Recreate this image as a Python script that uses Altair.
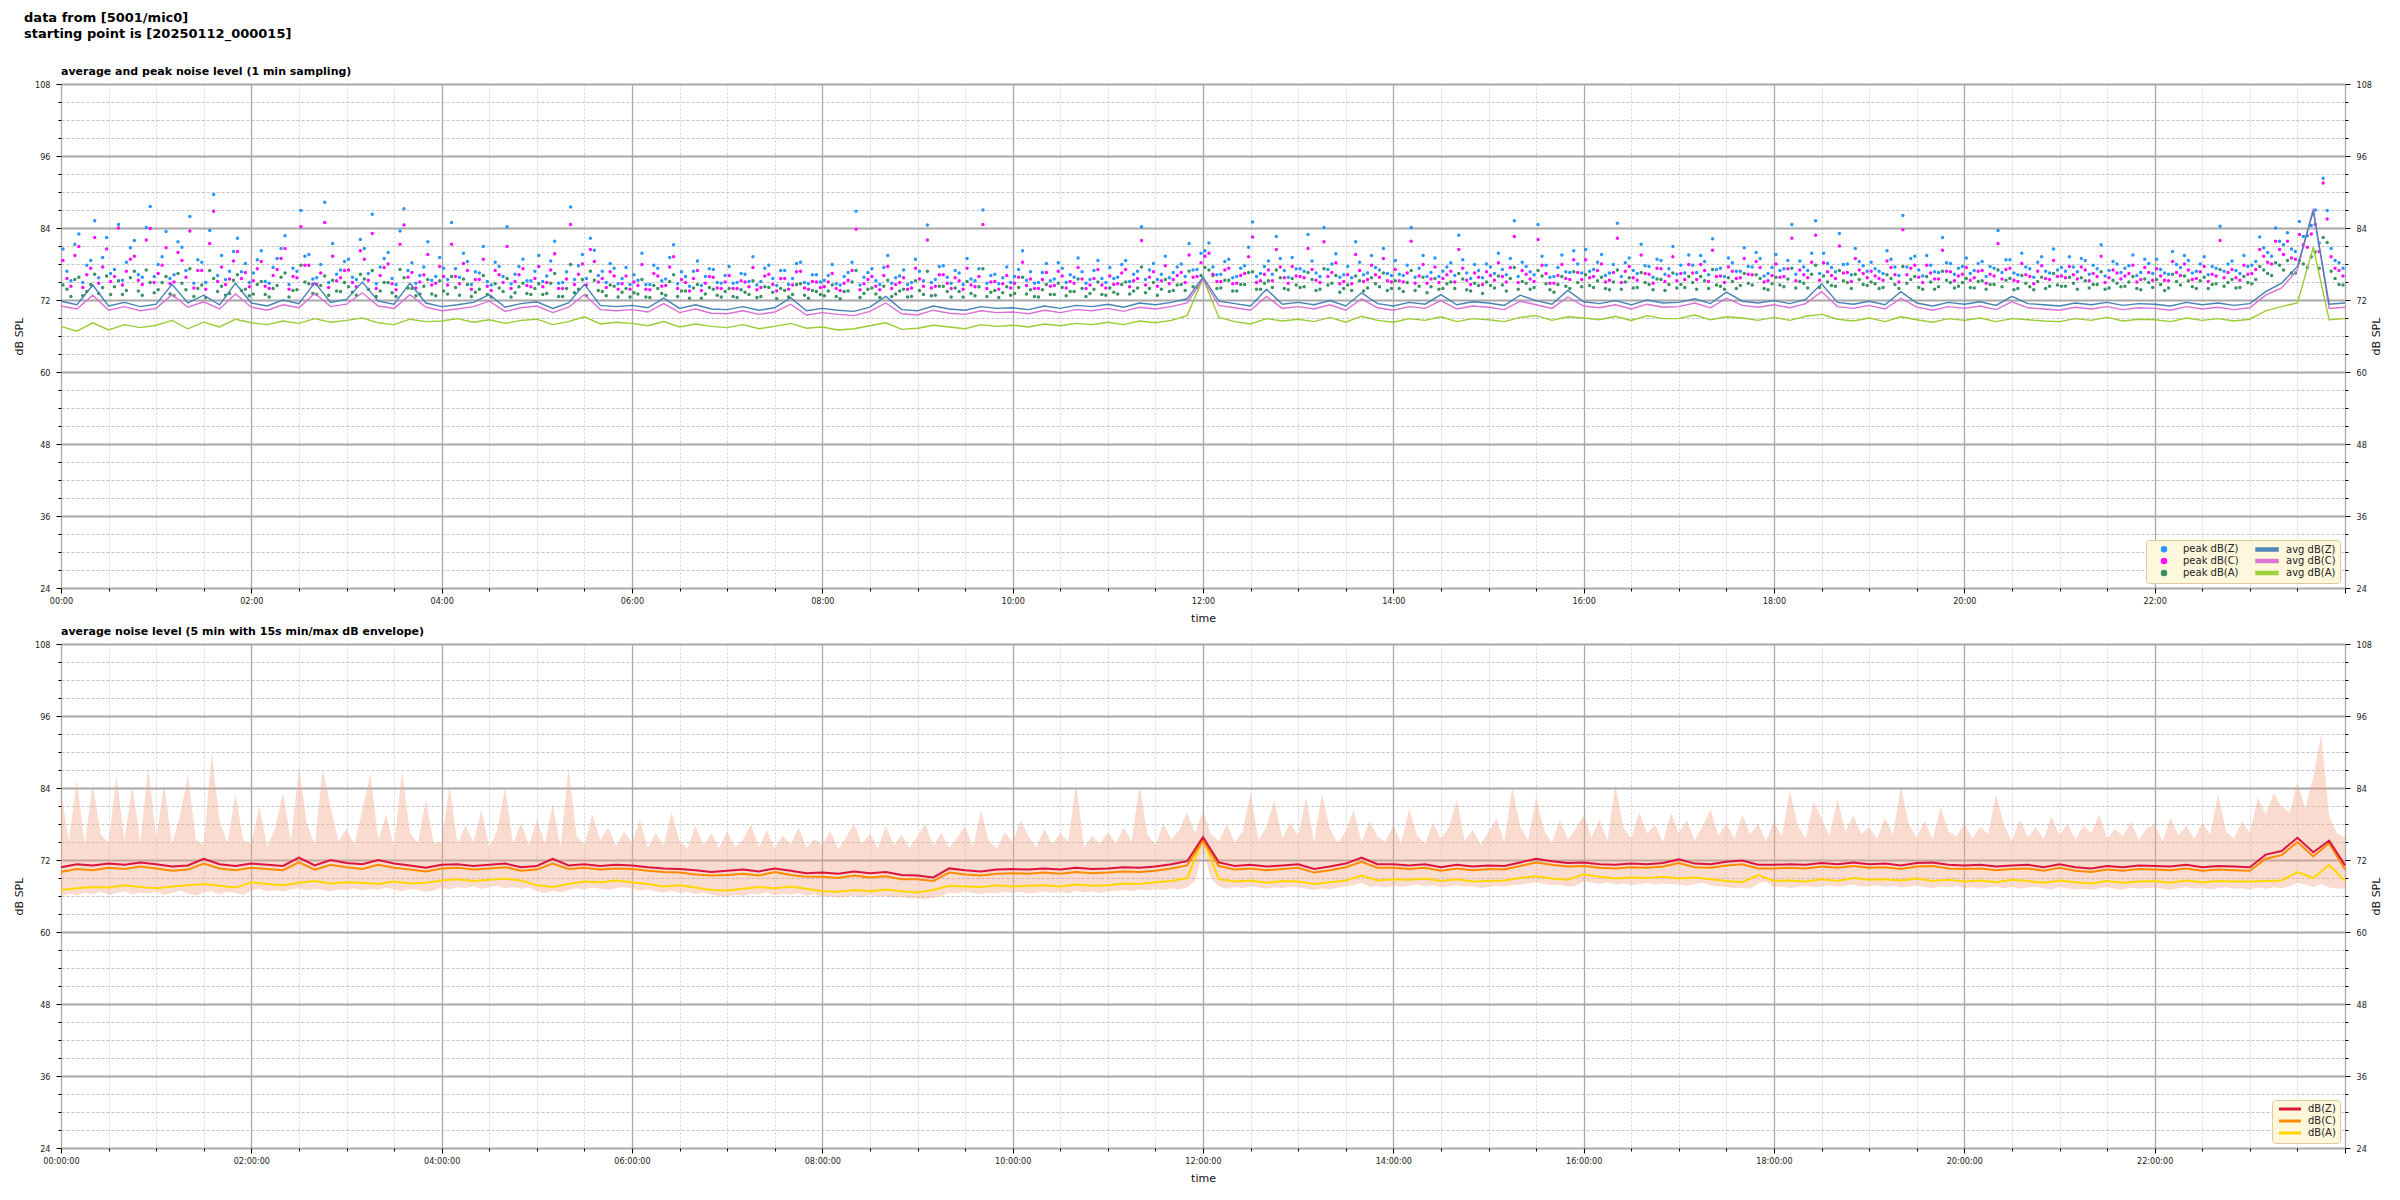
import altair as alt
import pandas as pd

# ---------------- data (hour blocks) ----------------
# top panel: 1-min averages shown at 10-min steps (6 values / hour) + value at 24:00
AVG_Z_H = [
    [71.8, 71.2, 74.5, 71.0, 71.6, 70.9], [71.3, 74.6, 71.5, 72.8, 71.2, 74.8],
    [71.5, 71.0, 72.0, 71.4, 74.9, 71.6], [72.1, 75.0, 71.8, 71.3, 74.8, 71.5],
    [70.9, 71.2, 71.6, 72.9, 70.8, 71.4], [71.7, 70.6, 71.5, 74.6, 71.1, 70.9],
    [71.1, 70.7, 72.3, 70.6, 71.2, 70.5], [70.4, 70.9, 70.3, 70.7, 72.4, 70.2],
    [70.6, 70.3, 70.1, 70.8, 72.6, 70.4], [70.2, 71.0, 70.5, 70.3, 70.9, 70.6],
    [70.7, 70.4, 71.0, 70.6, 71.1, 70.9], [71.3, 70.8, 71.5, 71.2, 71.6, 72.2],
    [75.8, 71.8, 71.4, 71.0, 73.8, 71.3], [71.6, 71.2, 71.9, 71.0, 73.2, 71.4],
    [71.0, 71.6, 71.3, 72.9, 71.2, 71.7], [71.5, 71.1, 72.8, 71.9, 71.3, 73.6],
    [71.7, 71.4, 71.9, 71.2, 72.0, 71.5], [71.6, 72.2, 71.4, 73.3, 71.8, 71.5],
    [71.9, 71.4, 72.1, 74.7, 71.6, 71.3], [71.8, 71.2, 73.4, 71.5, 71.0, 71.6],
    [71.3, 71.7, 71.1, 72.6, 71.4, 71.2], [71.0, 71.5, 71.2, 71.6, 71.1, 71.4],
    [71.3, 71.0, 71.6, 71.2, 71.5, 71.1], [71.4, 73.4, 74.8, 77.6, 86.8, 71.3],
]
AVG_Z_END = 71.5
AVG_C_H = [
    [71.0, 70.5, 72.8, 70.3, 70.9, 70.2], [70.6, 72.9, 70.8, 71.7, 70.5, 73.0],
    [70.8, 70.3, 71.2, 70.7, 73.1, 70.9], [71.3, 73.2, 71.0, 70.6, 72.9, 70.8],
    [70.2, 70.5, 70.9, 71.8, 70.1, 70.7], [71.0, 69.9, 70.8, 72.9, 70.4, 70.2],
    [70.4, 70.0, 71.4, 69.9, 70.5, 69.8], [69.7, 70.2, 69.6, 70.0, 71.3, 69.5],
    [69.9, 69.6, 69.4, 70.1, 71.5, 69.7], [69.5, 70.3, 69.8, 69.6, 70.2, 69.9],
    [70.0, 69.7, 70.3, 69.9, 70.4, 70.2], [70.6, 70.1, 70.8, 70.5, 70.9, 71.5],
    [75.5, 71.1, 70.7, 70.3, 72.6, 70.6], [70.9, 70.5, 71.2, 70.3, 72.2, 70.7],
    [70.3, 70.9, 70.6, 71.9, 70.5, 71.0], [70.8, 70.4, 71.8, 71.2, 70.6, 72.5],
    [71.0, 70.7, 71.2, 70.5, 71.3, 70.8], [70.9, 71.5, 70.7, 72.3, 71.1, 70.8],
    [71.2, 70.7, 71.4, 73.4, 70.9, 70.6], [71.1, 70.5, 72.3, 70.8, 70.3, 70.9],
    [70.6, 71.0, 70.4, 71.7, 70.7, 70.5], [70.3, 70.8, 70.5, 70.9, 70.4, 70.7],
    [70.6, 70.3, 70.9, 70.5, 70.8, 70.4], [70.7, 72.8, 74.0, 77.0, 87.2, 70.6],
]
AVG_C_END = 70.8
AVG_A_H = [
    [67.6, 66.8, 68.2, 67.0, 67.9, 67.4], [67.8, 68.6, 67.2, 68.3, 67.5, 68.8],
    [68.2, 67.9, 68.5, 68.1, 68.9, 68.3], [68.6, 69.0, 68.2, 67.9, 68.8, 68.4],
    [68.5, 68.9, 68.3, 68.7, 68.1, 68.6], [68.8, 67.9, 68.4, 69.2, 68.0, 68.3],
    [68.1, 67.7, 68.4, 67.5, 68.0, 67.6], [67.4, 67.9, 67.2, 67.6, 68.1, 67.3],
    [67.5, 67.0, 67.2, 67.7, 68.2, 67.1], [67.3, 67.8, 67.5, 67.2, 67.9, 67.6],
    [67.8, 67.5, 68.0, 67.7, 68.1, 67.9], [68.3, 67.9, 68.5, 68.2, 68.6, 69.4],
    [75.6, 69.1, 68.4, 68.0, 68.9, 68.5], [68.8, 68.4, 69.1, 68.3, 69.3, 68.6],
    [68.3, 68.9, 68.6, 69.2, 68.4, 68.9], [68.7, 68.4, 69.1, 69.4, 68.6, 69.2],
    [69.0, 68.7, 69.3, 68.6, 69.4, 68.9], [68.9, 69.5, 68.7, 69.2, 69.0, 68.6],
    [69.1, 68.6, 69.3, 69.6, 68.8, 68.5], [69.0, 68.4, 69.2, 68.7, 68.3, 68.9],
    [68.6, 69.0, 68.4, 68.9, 68.7, 68.5], [68.4, 68.9, 68.6, 69.1, 68.5, 68.8],
    [68.7, 68.4, 69.0, 68.6, 68.9, 68.5], [68.8, 70.2, 70.9, 71.5, 80.8, 68.7],
]
AVG_A_END = 68.9

# top panel: peak values, two every 5 min (sets A and B, 12 values / hour each)
PEAK_Z_H = [
    [80.5, 75.2, 83.0, 77.8, 85.2, 79.1, 76.4, 84.6, 78.3, 81.9, 75.8, 87.6],
    [77.9, 83.4, 76.2, 80.8, 85.9, 78.7, 74.9, 89.6, 79.4, 76.8, 82.3, 78.1],
    [76.5, 80.2, 74.8, 78.9, 82.7, 77.3, 86.9, 79.6, 75.7, 88.3, 81.4, 77.0],
    [78.8, 75.4, 80.6, 86.3, 77.5, 79.9, 74.6, 87.2, 78.2, 76.1, 81.7, 75.9],
    [77.3, 84.9, 75.8, 78.4, 76.7, 80.9, 74.5, 77.6, 84.2, 76.3, 78.8, 75.2],
    [79.4, 76.0, 81.8, 74.9, 87.5, 77.7, 75.6, 80.3, 76.8, 78.1, 74.7, 77.4],
    [76.2, 79.8, 74.6, 77.3, 75.5, 81.2, 76.7, 74.3, 78.5, 75.9, 77.1, 74.8],
    [77.6, 74.9, 76.3, 79.2, 75.1, 77.8, 74.4, 76.9, 75.6, 78.3, 74.7, 76.2],
    [75.3, 77.9, 74.5, 76.6, 86.8, 75.8, 77.2, 74.6, 79.4, 75.7, 77.0, 74.9],
    [76.8, 84.5, 75.4, 77.7, 74.8, 76.5, 78.9, 75.2, 87.0, 76.1, 74.7, 77.5],
    [75.9, 80.2, 76.7, 74.9, 78.1, 75.5, 77.3, 76.2, 79.0, 74.8, 76.9, 75.6],
    [77.4, 75.8, 78.6, 76.3, 84.2, 77.0, 75.4, 79.3, 76.6, 78.0, 81.4, 77.1],
    [80.2, 77.5, 76.3, 78.8, 75.9, 77.7, 85.0, 76.4, 78.5, 82.6, 76.9, 79.1],
    [77.2, 82.9, 76.5, 84.1, 78.0, 75.8, 77.6, 81.7, 76.2, 79.4, 77.0, 76.4],
    [78.6, 76.1, 84.1, 77.3, 75.9, 79.0, 76.8, 78.2, 82.8, 76.5, 77.9, 75.7],
    [77.5, 79.8, 76.2, 85.2, 78.3, 76.7, 84.6, 77.8, 75.9, 79.5, 76.6, 78.0],
    [80.4, 77.1, 79.6, 76.5, 84.8, 78.2, 76.9, 81.3, 77.6, 78.8, 76.3, 80.9],
    [77.8, 79.5, 76.6, 78.4, 82.2, 77.3, 79.0, 76.8, 80.7, 77.5, 78.9, 76.4],
    [79.6, 77.2, 84.6, 78.5, 76.9, 85.2, 79.8, 77.4, 83.1, 78.0, 80.6, 77.7],
    [78.3, 76.8, 80.2, 77.5, 86.1, 78.9, 77.0, 79.4, 76.7, 82.4, 78.1, 77.3],
    [79.0, 76.9, 78.4, 77.6, 83.6, 78.7, 76.5, 79.8, 77.2, 78.3, 76.8, 80.5],
    [77.4, 79.2, 76.7, 78.6, 77.8, 81.2, 76.9, 78.0, 77.3, 79.5, 76.6, 78.1],
    [78.8, 76.5, 80.1, 77.4, 78.6, 76.8, 79.2, 77.6, 84.3, 78.0, 76.9, 79.4],
    [77.8, 82.5, 79.9, 84.0, 81.2, 80.5, 85.1, 82.7, 87.0, 92.3, 80.6, 78.2],
]
PEAK_Z_B_H = [
    [76.8, 81.3, 74.9, 78.6, 75.7, 82.4, 77.1, 75.3, 80.7, 76.2, 84.1, 75.9],
    [79.2, 75.6, 81.7, 76.9, 74.8, 78.3, 83.6, 76.1, 75.4, 80.1, 76.7, 74.9],
    [78.7, 75.1, 77.4, 80.6, 74.6, 76.8, 79.3, 75.5, 77.9, 74.9, 76.3, 78.4],
    [75.8, 82.1, 76.4, 74.7, 78.9, 75.6, 83.5, 76.9, 74.8, 77.5, 75.3, 79.1],
    [75.4, 77.2, 79.8, 74.6, 76.5, 75.1, 78.3, 75.9, 74.7, 77.6, 75.2, 76.8],
    [75.1, 78.5, 74.8, 76.7, 75.4, 79.6, 82.3, 76.1, 74.9, 77.3, 75.6, 74.6],
    [75.3, 74.6, 77.8, 75.2, 79.1, 74.7, 75.9, 76.8, 74.4, 77.2, 74.9, 76.1],
    [74.8, 76.4, 75.1, 74.5, 77.3, 75.6, 76.9, 74.6, 78.1, 74.9, 76.2, 75.0],
    [76.1, 74.7, 75.9, 78.3, 74.5, 76.6, 75.2, 77.4, 74.8, 76.0, 74.6, 78.8],
    [75.2, 74.9, 77.6, 75.8, 76.9, 74.6, 75.5, 77.2, 74.8, 76.3, 75.7, 74.9],
    [77.1, 75.3, 74.8, 76.6, 75.2, 78.2, 74.9, 75.8, 76.7, 75.4, 78.6, 74.9],
    [75.6, 77.9, 75.1, 76.8, 75.4, 78.1, 76.3, 75.7, 77.5, 75.9, 77.0, 79.8],
    [81.5, 76.2, 78.4, 75.7, 77.3, 80.8, 75.9, 77.6, 76.3, 78.9, 75.8, 77.2],
    [76.8, 78.5, 75.9, 77.1, 79.7, 76.2, 75.7, 78.3, 76.5, 77.4, 80.6, 76.1],
    [76.3, 77.8, 75.8, 79.4, 76.6, 75.9, 77.5, 76.1, 78.7, 75.6, 76.9, 78.0],
    [76.4, 77.1, 78.9, 75.9, 77.6, 76.2, 79.3, 75.8, 77.4, 76.7, 80.2, 76.5],
    [76.8, 78.3, 76.1, 77.9, 75.9, 79.0, 76.4, 77.7, 75.8, 78.6, 77.2, 76.3],
    [76.5, 77.8, 79.4, 76.2, 77.1, 75.9, 78.2, 76.8, 77.6, 79.9, 76.0, 77.4],
    [76.9, 78.6, 76.3, 77.5, 79.8, 76.4, 78.1, 76.7, 77.9, 76.2, 78.4, 76.8],
    [77.2, 76.4, 78.8, 76.1, 77.5, 79.3, 76.0, 77.8, 76.6, 78.2, 76.3, 77.6],
    [76.4, 78.1, 75.9, 77.3, 76.6, 78.7, 76.2, 77.5, 75.8, 79.2, 76.5, 77.0],
    [76.8, 77.5, 78.9, 76.3, 77.2, 76.0, 78.4, 76.6, 77.7, 76.1, 78.8, 76.4],
    [77.1, 76.3, 77.9, 79.4, 76.5, 78.0, 76.2, 77.3, 76.8, 78.5, 76.4, 77.6],
    [78.4, 80.7, 79.3, 81.8, 83.2, 80.1, 82.6, 84.4, 81.5, 86.9, 78.6, 77.3],
]
PEAK_C_H = [
    [78.6, 74.3, 80.9, 76.2, 82.4, 77.5, 75.1, 84.0, 76.8, 79.3, 74.6, 83.9],
    [76.4, 80.7, 75.0, 78.6, 83.5, 76.9, 73.8, 86.8, 77.5, 75.5, 80.1, 76.6],
    [75.2, 78.4, 73.9, 77.1, 80.6, 75.9, 84.2, 77.8, 74.6, 84.9, 79.3, 75.7],
    [77.0, 74.2, 78.8, 83.1, 76.1, 78.0, 73.7, 84.5, 76.6, 75.0, 79.6, 74.8],
    [75.9, 81.3, 74.7, 76.9, 75.4, 78.8, 73.6, 76.2, 80.9, 75.1, 77.2, 74.2],
    [77.6, 74.9, 79.7, 73.9, 84.6, 76.3, 74.5, 78.4, 75.6, 76.7, 73.8, 76.0],
    [75.0, 77.9, 73.7, 76.0, 74.4, 79.2, 75.4, 73.5, 76.9, 74.8, 75.8, 73.9],
    [76.1, 73.9, 75.0, 77.4, 74.1, 76.3, 73.5, 75.6, 74.5, 76.8, 73.8, 75.0],
    [74.2, 76.4, 73.6, 75.3, 83.8, 74.7, 75.9, 73.7, 77.6, 74.6, 75.7, 74.0],
    [75.5, 82.0, 74.3, 76.2, 73.9, 75.2, 77.3, 74.2, 84.6, 75.0, 73.8, 76.1],
    [74.8, 78.3, 75.5, 73.9, 76.6, 74.4, 76.0, 75.1, 77.4, 73.9, 75.6, 74.5],
    [76.0, 74.7, 77.1, 75.2, 81.9, 75.8, 74.3, 77.7, 75.4, 76.6, 79.5, 75.9],
    [79.3, 76.3, 75.1, 77.3, 74.8, 76.4, 82.5, 75.2, 77.0, 80.4, 75.7, 77.6],
    [75.9, 80.6, 75.3, 81.7, 76.6, 74.7, 76.2, 79.6, 75.1, 77.8, 75.8, 75.2],
    [77.1, 75.0, 81.8, 76.0, 74.8, 77.5, 75.6, 76.8, 80.4, 75.3, 76.5, 74.6],
    [76.1, 78.2, 75.0, 82.6, 76.9, 75.5, 82.1, 76.4, 74.8, 77.9, 75.4, 76.6],
    [78.7, 75.9, 78.0, 75.3, 82.3, 76.8, 75.7, 79.5, 76.3, 77.3, 75.1, 79.2],
    [76.4, 77.9, 75.4, 76.9, 80.3, 76.0, 77.5, 75.6, 78.9, 76.2, 77.4, 75.2],
    [78.0, 75.9, 82.3, 77.0, 75.7, 82.8, 78.2, 76.1, 81.0, 76.6, 78.9, 76.4],
    [76.8, 75.6, 78.5, 76.2, 83.7, 77.3, 75.8, 77.8, 75.5, 80.3, 76.7, 76.0],
    [77.4, 75.7, 76.9, 76.3, 81.4, 77.1, 75.3, 78.1, 75.9, 76.8, 75.6, 78.6],
    [76.0, 77.6, 75.5, 77.0, 76.4, 79.3, 75.7, 76.5, 76.0, 77.8, 75.4, 76.6],
    [77.2, 75.3, 78.4, 76.1, 77.0, 75.6, 77.6, 76.3, 81.9, 76.6, 75.7, 77.8],
    [76.4, 80.4, 78.3, 81.8, 79.6, 79.0, 82.9, 80.8, 84.6, 91.5, 79.2, 76.9],
]
PEAK_C_B_H = [
    [75.6, 79.4, 74.1, 77.3, 74.8, 80.5, 75.9, 74.5, 78.8, 75.3, 82.0, 74.9],
    [77.8, 74.7, 79.9, 75.8, 74.0, 76.9, 81.4, 75.1, 74.6, 78.5, 75.6, 74.2],
    [77.2, 74.3, 76.1, 78.9, 73.8, 75.7, 77.8, 74.6, 76.5, 74.1, 75.2, 76.9],
    [74.9, 80.2, 75.3, 73.9, 77.4, 74.7, 81.3, 75.8, 74.0, 76.2, 74.5, 77.6],
    [74.5, 75.9, 78.1, 73.8, 75.4, 74.3, 76.9, 74.9, 73.9, 76.2, 74.4, 75.6],
    [74.2, 77.0, 73.9, 75.5, 74.6, 78.0, 80.4, 75.0, 74.1, 76.0, 74.7, 73.8],
    [74.4, 73.8, 76.4, 74.3, 77.5, 73.9, 74.9, 75.6, 73.6, 75.9, 74.0, 75.0],
    [73.9, 75.2, 74.2, 73.7, 76.0, 74.6, 75.6, 73.8, 76.7, 74.0, 75.1, 74.1],
    [75.0, 73.9, 74.8, 76.9, 73.7, 75.4, 74.3, 76.1, 73.9, 74.9, 73.8, 77.3],
    [74.3, 74.0, 76.2, 74.8, 75.7, 73.8, 74.5, 75.9, 73.9, 75.1, 74.7, 74.0],
    [75.8, 74.4, 73.9, 75.4, 74.3, 76.8, 74.0, 74.8, 75.5, 74.5, 77.1, 74.0],
    [74.6, 76.5, 74.2, 75.6, 74.5, 76.7, 75.2, 74.7, 76.1, 74.9, 75.8, 78.2],
    [79.8, 75.1, 77.0, 74.7, 76.1, 79.2, 74.9, 76.3, 75.2, 77.5, 74.8, 76.0],
    [75.7, 77.1, 74.9, 75.9, 78.2, 75.1, 74.7, 76.9, 75.4, 76.2, 78.9, 75.0],
    [75.2, 76.5, 74.8, 77.9, 75.5, 74.9, 76.2, 75.0, 77.3, 74.6, 75.8, 76.7],
    [75.3, 75.9, 77.4, 74.9, 76.3, 75.1, 77.8, 74.8, 76.1, 75.6, 78.7, 75.4],
    [75.7, 76.9, 75.0, 76.6, 74.9, 77.6, 75.3, 76.4, 74.8, 77.2, 76.0, 75.2],
    [75.4, 76.5, 77.9, 75.1, 75.9, 74.9, 76.8, 75.7, 76.3, 78.4, 75.0, 76.1],
    [75.8, 77.2, 75.2, 76.2, 78.3, 75.3, 76.7, 75.6, 76.5, 75.1, 77.0, 75.7],
    [76.0, 75.3, 77.4, 75.0, 76.2, 77.8, 74.9, 76.5, 75.5, 76.8, 75.2, 76.3],
    [75.3, 76.8, 74.8, 76.0, 75.5, 77.3, 75.1, 76.2, 74.7, 77.7, 75.4, 75.9],
    [75.7, 76.2, 77.5, 75.2, 75.9, 74.9, 77.0, 75.5, 76.4, 75.0, 77.4, 75.3],
    [76.0, 75.2, 76.6, 78.0, 75.4, 76.7, 75.1, 76.0, 75.7, 77.1, 75.3, 76.3],
    [77.1, 79.3, 78.0, 80.4, 81.8, 78.8, 81.2, 83.0, 80.1, 85.5, 77.3, 76.0],
]
PEAK_A_H = [
    [74.5, 72.6, 75.8, 73.4, 76.3, 74.1, 72.9, 75.2, 73.6, 76.8, 72.8, 74.9],
    [73.7, 75.9, 72.7, 74.8, 77.2, 73.9, 72.4, 75.6, 74.3, 73.1, 76.2, 73.8],
    [73.0, 75.1, 72.5, 74.4, 76.5, 73.6, 77.8, 74.7, 72.9, 76.0, 75.3, 73.4],
    [74.2, 72.8, 75.5, 76.9, 73.5, 74.9, 72.6, 75.7, 73.9, 73.0, 75.4, 72.7],
    [73.5, 75.9, 72.8, 74.6, 73.3, 76.1, 72.5, 74.0, 75.6, 73.2, 74.8, 72.9],
    [74.7, 73.1, 76.4, 72.6, 77.9, 73.8, 72.7, 75.3, 73.4, 74.5, 72.5, 73.9],
    [73.2, 75.4, 72.4, 73.9, 72.8, 76.2, 73.5, 72.3, 74.6, 73.0, 73.8, 72.5],
    [73.9, 72.4, 73.3, 75.2, 72.6, 74.1, 72.2, 73.6, 72.9, 74.7, 72.3, 73.4],
    [72.7, 74.5, 72.2, 73.5, 76.9, 73.1, 74.0, 72.4, 75.3, 73.0, 73.8, 72.6],
    [73.6, 76.8, 72.8, 74.3, 72.5, 73.4, 75.1, 72.7, 77.2, 73.3, 72.4, 74.2],
    [73.1, 75.8, 73.7, 72.5, 74.6, 72.9, 74.1, 73.4, 75.5, 72.6, 73.8, 72.9],
    [74.0, 73.0, 75.0, 73.5, 77.5, 73.9, 72.8, 75.4, 73.6, 74.6, 76.8, 74.1],
    [77.4, 76.1, 74.0, 75.3, 73.5, 74.6, 76.7, 73.8, 75.2, 77.0, 73.9, 75.6],
    [74.1, 76.6, 73.6, 77.2, 74.8, 73.3, 74.5, 76.0, 73.5, 75.7, 74.2, 73.6],
    [75.2, 73.4, 76.9, 74.3, 73.2, 75.6, 73.9, 75.0, 76.4, 73.7, 74.8, 73.1],
    [74.4, 76.0, 73.5, 77.4, 75.1, 73.8, 76.9, 74.7, 73.3, 75.9, 73.9, 74.9],
    [76.2, 74.1, 75.8, 73.7, 77.0, 75.0, 74.0, 76.6, 74.6, 75.5, 73.6, 76.5],
    [74.6, 75.9, 73.8, 75.2, 77.1, 74.3, 75.7, 73.9, 76.4, 74.5, 75.6, 73.7],
    [75.8, 74.2, 77.3, 75.1, 74.0, 77.8, 76.0, 74.4, 76.9, 74.9, 76.3, 74.6],
    [75.0, 73.9, 76.2, 74.6, 77.6, 75.4, 74.1, 75.9, 73.8, 76.8, 74.9, 74.3],
    [75.6, 74.0, 75.2, 74.6, 77.0, 75.3, 73.7, 76.1, 74.2, 75.1, 73.9, 76.4],
    [74.3, 75.8, 73.8, 75.2, 74.6, 76.7, 74.0, 74.8, 74.3, 75.9, 73.7, 74.9],
    [75.4, 73.6, 76.3, 74.5, 75.2, 73.9, 75.8, 74.6, 77.1, 74.9, 74.0, 75.9],
    [74.7, 77.6, 76.4, 78.2, 77.0, 76.5, 78.6, 77.4, 80.0, 82.4, 76.8, 74.6],
]
PEAK_A_B_H = [
    [73.8, 75.4, 72.7, 74.6, 73.1, 76.0, 74.2, 72.9, 75.7, 73.5, 77.0, 73.2],
    [74.9, 73.0, 76.4, 73.7, 72.6, 74.5, 76.9, 73.4, 72.8, 75.3, 73.6, 72.7],
    [74.6, 72.9, 73.9, 75.8, 72.5, 73.7, 75.0, 73.1, 74.4, 72.8, 73.5, 74.9],
    [73.3, 76.3, 73.8, 72.6, 74.9, 73.2, 77.1, 74.0, 72.7, 74.3, 73.0, 75.2],
    [73.0, 74.1, 75.5, 72.6, 73.8, 72.9, 74.7, 73.4, 72.5, 74.2, 73.1, 73.9],
    [72.9, 74.8, 72.6, 73.9, 73.2, 75.4, 76.8, 73.6, 72.7, 74.3, 73.3, 72.5],
    [73.0, 72.5, 74.4, 73.1, 75.1, 72.6, 73.5, 74.0, 72.3, 74.1, 72.8, 73.4],
    [72.6, 73.7, 72.9, 72.4, 74.2, 73.3, 73.9, 72.5, 74.6, 72.8, 73.6, 72.9],
    [73.5, 72.6, 73.4, 75.0, 72.4, 73.8, 73.0, 74.3, 72.6, 73.5, 72.5, 75.2],
    [72.9, 72.7, 74.3, 73.4, 74.0, 72.5, 73.1, 74.2, 72.6, 73.6, 73.2, 72.8],
    [74.1, 73.0, 72.6, 73.7, 72.9, 74.8, 72.7, 73.4, 73.9, 73.1, 75.0, 72.8],
    [73.3, 74.6, 73.0, 74.0, 73.2, 74.9, 73.8, 73.4, 74.5, 73.6, 74.2, 76.1],
    [77.0, 73.9, 75.3, 73.5, 74.6, 76.6, 73.8, 74.8, 74.1, 75.7, 73.7, 74.5],
    [74.2, 75.4, 73.8, 74.5, 76.1, 73.9, 73.6, 75.2, 74.0, 74.7, 76.5, 73.9],
    [73.9, 74.9, 73.6, 75.8, 74.2, 73.8, 74.7, 73.9, 75.5, 73.5, 74.4, 75.0],
    [74.0, 74.5, 75.6, 73.8, 74.8, 74.1, 76.0, 73.7, 74.6, 74.3, 76.7, 74.2],
    [74.4, 75.2, 73.9, 75.0, 73.8, 75.7, 74.1, 74.9, 73.7, 75.4, 74.6, 74.0],
    [74.1, 74.9, 75.9, 73.9, 74.5, 73.8, 75.1, 74.4, 74.8, 76.2, 73.9, 74.7],
    [74.5, 75.5, 74.0, 74.8, 76.3, 74.1, 75.0, 74.3, 75.2, 73.9, 75.4, 74.4],
    [74.7, 74.1, 75.6, 73.9, 74.8, 75.9, 73.8, 75.0, 74.2, 75.3, 74.0, 74.9],
    [74.1, 75.1, 73.8, 74.6, 74.2, 75.6, 73.9, 74.8, 73.7, 75.8, 74.3, 74.5],
    [74.3, 74.8, 75.7, 74.0, 74.6, 73.8, 75.3, 74.2, 75.0, 73.9, 75.5, 74.1],
    [74.6, 74.0, 75.1, 76.0, 74.2, 75.2, 73.9, 74.7, 74.3, 75.4, 74.1, 74.9],
    [75.4, 77.0, 76.1, 77.8, 78.6, 76.5, 78.0, 79.2, 77.3, 81.6, 75.6, 74.5],
]

# bottom panel: 5-min averages shown at 10-min steps + value at 24:00
DB_Z_H = [
    [70.8, 71.3, 71.1, 71.4, 71.2, 71.6], [71.3, 70.9, 71.1, 72.2, 71.3, 71.0],
    [71.4, 71.2, 71.0, 72.4, 71.1, 72.0], [71.5, 71.3, 72.0, 71.4, 71.1, 70.7],
    [71.2, 71.3, 71.0, 71.2, 71.4, 70.8], [71.0, 72.2, 71.1, 71.3, 71.0, 71.2],
    [71.1, 70.8, 70.6, 70.5, 70.3, 70.0], [70.2, 70.4, 70.1, 70.6, 70.2, 69.8],
    [69.9, 69.7, 70.1, 69.8, 70.0, 69.5], [69.4, 69.1, 70.6, 70.3, 70.1, 70.4],
    [70.5, 70.4, 70.6, 70.4, 70.7, 70.5], [70.6, 70.8, 70.7, 70.9, 71.3, 71.8],
    [75.8, 71.6, 71.0, 71.2, 70.9, 71.1], [71.3, 70.5, 70.9, 71.4, 72.4, 71.3],
    [71.3, 71.1, 71.3, 70.8, 71.2, 70.9], [71.1, 71.0, 71.6, 72.2, 71.8, 71.5],
    [71.6, 71.3, 71.2, 71.4, 71.3, 71.5], [72.1, 71.4, 71.3, 71.7, 71.9, 71.2],
    [71.2, 71.3, 71.2, 71.5, 71.3, 71.6], [71.3, 71.4, 71.1, 71.5, 71.6, 71.2],
    [71.1, 71.2, 70.9, 71.1, 71.2, 70.8], [71.3, 70.8, 70.6, 71.0, 70.8, 71.1],
    [71.0, 70.9, 71.2, 70.8, 71.0, 70.9], [70.8, 72.9, 73.5, 75.7, 73.3, 75.2],
]
DB_Z_END = 71.1
DB_C_H = [
    [70.0, 70.5, 70.3, 70.7, 70.5, 70.9], [70.6, 70.2, 70.4, 71.4, 70.6, 70.3],
    [70.7, 70.5, 70.3, 71.6, 70.4, 71.2], [70.8, 70.5, 71.2, 70.7, 70.4, 70.1],
    [70.6, 70.7, 70.4, 70.6, 70.8, 70.2], [70.4, 71.4, 70.5, 70.7, 70.4, 70.6],
    [70.5, 70.2, 70.0, 69.9, 69.6, 69.4], [69.5, 69.7, 69.4, 70.0, 69.5, 69.2],
    [69.2, 69.0, 69.4, 69.1, 69.3, 68.8], [68.8, 68.5, 69.9, 69.6, 69.4, 69.7],
    [69.8, 69.7, 69.9, 69.7, 70.0, 69.8], [69.9, 70.1, 70.0, 70.2, 70.6, 71.1],
    [75.3, 71.0, 70.4, 70.6, 70.3, 70.5], [70.7, 69.9, 70.3, 70.8, 71.7, 70.7],
    [70.7, 70.5, 70.7, 70.2, 70.6, 70.3], [70.5, 70.4, 71.0, 71.6, 71.2, 70.9],
    [71.0, 70.7, 70.6, 70.8, 70.7, 70.9], [71.5, 70.8, 70.7, 71.1, 71.3, 70.6],
    [70.6, 70.7, 70.6, 70.9, 70.7, 71.0], [70.7, 70.8, 70.5, 70.9, 71.0, 70.6],
    [70.5, 70.6, 70.3, 70.5, 70.6, 70.2], [70.7, 70.2, 70.0, 70.4, 70.2, 70.5],
    [70.4, 70.3, 70.6, 70.2, 70.4, 70.3], [70.2, 72.2, 72.8, 75.0, 72.6, 74.8],
]
DB_C_END = 70.4
DB_A_H = [
    [67.0, 67.3, 67.5, 67.4, 67.8, 67.5], [67.3, 67.6, 67.8, 68.0, 67.7, 67.4],
    [68.3, 68.0, 67.8, 68.2, 68.5, 68.1], [68.3, 68.2, 68.0, 68.4, 68.1, 68.2],
    [68.6, 68.8, 68.5, 68.7, 68.9, 68.6], [67.8, 67.5, 68.0, 68.4, 68.3, 68.6],
    [68.3, 68.0, 67.6, 67.8, 67.4, 67.0], [66.9, 67.2, 67.5, 67.3, 67.6, 67.2],
    [66.8, 66.7, 67.0, 66.8, 67.1, 66.8], [66.6, 67.0, 67.7, 67.6, 67.5, 67.8],
    [67.6, 67.7, 67.8, 67.6, 67.9, 67.7], [67.8, 68.1, 68.0, 68.3, 68.5, 69.0],
    [75.5, 68.8, 68.4, 68.6, 68.2, 68.5], [68.4, 68.0, 68.3, 68.6, 69.4, 68.6],
    [68.8, 68.7, 68.9, 68.5, 68.8, 68.4], [68.5, 68.6, 69.0, 69.3, 68.9, 68.7],
    [69.6, 69.2, 68.9, 69.1, 69.0, 69.2], [68.9, 69.1, 68.8, 68.5, 68.3, 69.5],
    [68.5, 68.6, 68.4, 68.8, 68.5, 69.0], [68.7, 68.8, 68.6, 68.9, 68.5, 68.7],
    [68.4, 68.6, 68.3, 68.7, 68.5, 68.2], [68.6, 68.3, 68.1, 68.5, 68.2, 68.4],
    [68.5, 68.2, 68.6, 68.3, 68.5, 68.4], [68.4, 68.5, 68.6, 70.0, 69.0, 71.2],
]
DB_A_END = 68.5

# bottom panel: 15 s min / max envelope, one value every 5 min + value at 24:00
ENV_MAX_H = [
    [83.2, 75.1, 85.4, 74.6, 84.8, 76.3, 74.8, 86.0, 75.2, 84.5, 74.9, 87.5],
    [75.6, 84.6, 74.7, 79.3, 86.2, 75.4, 74.5, 89.8, 78.4, 74.9, 83.0, 75.3],
    [74.8, 80.9, 74.3, 77.3, 83.2, 75.0, 87.5, 78.1, 74.6, 87.2, 80.8, 75.1],
    [77.2, 74.6, 80.3, 86.4, 75.3, 79.6, 74.2, 86.9, 76.6, 74.8, 82.1, 74.7],
    [75.0, 84.6, 74.5, 77.8, 74.9, 80.3, 74.1, 76.9, 84.1, 74.6, 78.2, 74.4],
    [78.8, 74.7, 81.2, 74.2, 87.3, 76.1, 74.5, 79.6, 75.3, 77.5, 74.2, 76.8],
    [74.9, 78.6, 74.1, 76.5, 74.4, 80.0, 75.1, 73.9, 77.7, 74.5, 76.4, 74.0],
    [76.8, 74.1, 75.4, 77.9, 74.2, 76.9, 73.9, 76.1, 74.6, 77.4, 74.0, 75.5],
    [74.5, 76.8, 73.8, 75.8, 78.1, 74.6, 76.4, 73.9, 77.7, 74.5, 76.2, 74.1],
    [75.9, 78.0, 74.3, 76.6, 74.0, 75.7, 77.6, 74.2, 80.2, 75.1, 73.9, 76.6],
    [75.0, 78.6, 75.9, 74.1, 77.2, 74.6, 76.5, 75.0, 84.8, 74.0, 76.0, 74.7],
    [76.6, 74.8, 77.4, 75.1, 84.5, 76.2, 74.5, 78.1, 75.4, 77.0, 79.9, 76.4],
    [80.2, 76.3, 75.2, 77.9, 74.9, 76.8, 83.2, 75.3, 77.6, 82.0, 75.6, 78.3],
    [76.0, 82.4, 75.1, 83.1, 77.2, 74.8, 76.8, 80.3, 75.0, 78.5, 75.9, 75.1],
    [77.8, 74.9, 80.5, 76.0, 74.7, 78.2, 75.6, 77.4, 82.1, 75.2, 77.0, 74.6],
    [76.7, 78.9, 75.0, 84.2, 77.5, 75.3, 82.4, 77.0, 74.8, 78.7, 75.4, 77.2],
    [79.4, 75.8, 78.7, 75.2, 84.6, 77.4, 75.6, 80.0, 76.4, 77.9, 75.0, 79.8],
    [76.5, 78.6, 75.3, 77.6, 80.4, 76.1, 78.1, 75.5, 79.5, 76.3, 78.0, 75.2],
    [78.4, 75.9, 83.6, 77.7, 75.6, 81.8, 78.9, 76.0, 82.2, 76.7, 79.4, 76.3],
    [77.5, 75.5, 79.0, 76.2, 84.3, 77.9, 75.7, 78.5, 75.4, 80.8, 76.8, 75.9],
    [78.1, 75.6, 77.5, 76.3, 82.9, 77.8, 75.2, 78.7, 75.8, 77.4, 75.4, 79.2],
    [76.1, 78.1, 75.4, 77.7, 76.5, 79.6, 75.6, 77.2, 75.9, 78.4, 75.3, 77.3],
    [77.9, 75.2, 79.0, 76.1, 77.7, 75.5, 78.3, 76.2, 83.0, 76.7, 75.6, 78.5],
    [76.5, 82.4, 79.6, 83.1, 80.9, 79.8, 84.9, 80.6, 85.8, 93.0, 79.3, 76.4],
]
ENV_MAX_END = 75.8
ENV_MIN_H = [
    [66.0, 66.4, 66.1, 66.6, 66.3, 66.7, 66.2, 66.5, 66.8, 66.3, 66.6, 66.4],
    [66.7, 66.2, 66.5, 66.9, 66.4, 66.1, 66.6, 66.8, 66.3, 66.7, 66.5, 66.2],
    [66.9, 67.2, 66.8, 67.0, 66.7, 67.1, 67.3, 66.9, 67.2, 67.0, 66.8, 67.1],
    [67.0, 67.3, 66.9, 67.2, 67.0, 67.4, 67.1, 66.8, 67.2, 67.0, 66.7, 66.9],
    [67.4, 67.1, 67.5, 67.3, 67.6, 67.2, 67.4, 67.7, 67.3, 67.5, 67.2, 67.4],
    [66.8, 66.5, 66.9, 66.6, 67.0, 67.3, 67.1, 67.4, 67.2, 67.0, 67.3, 67.5],
    [67.2, 66.9, 67.1, 66.8, 66.6, 66.9, 66.5, 66.7, 66.3, 66.6, 66.2, 66.0],
    [65.9, 66.2, 66.0, 66.4, 66.3, 66.6, 66.1, 66.4, 66.2, 66.5, 66.0, 66.3],
    [65.8, 66.0, 65.7, 65.9, 66.1, 65.8, 66.2, 65.9, 66.0, 65.7, 65.9, 65.6],
    [65.6, 65.4, 65.8, 66.0, 66.6, 66.4, 66.7, 66.5, 66.3, 66.6, 66.4, 66.7],
    [66.5, 66.7, 66.4, 66.6, 66.8, 66.5, 66.7, 66.4, 66.9, 66.6, 66.8, 66.5],
    [66.7, 66.9, 67.0, 66.8, 67.1, 66.9, 67.2, 67.0, 67.3, 67.1, 67.4, 68.5],
    [73.5, 69.0, 67.6, 67.2, 67.5, 67.3, 67.6, 67.4, 67.2, 67.5, 67.3, 67.6],
    [67.4, 67.2, 67.0, 67.3, 67.1, 67.4, 67.6, 67.8, 68.2, 67.5, 67.7, 67.4],
    [67.8, 67.5, 67.7, 67.9, 67.6, 67.8, 67.4, 67.6, 67.8, 67.5, 67.7, 67.3],
    [67.5, 67.7, 67.6, 67.8, 67.9, 68.1, 68.3, 68.0, 67.8, 67.9, 67.6, 67.7],
    [68.4, 68.2, 68.0, 68.3, 67.9, 68.1, 67.8, 68.0, 68.2, 67.9, 68.1, 68.0],
    [67.9, 67.7, 68.0, 68.2, 67.8, 67.6, 67.5, 67.3, 67.4, 67.2, 68.1, 68.4],
    [67.4, 67.6, 67.3, 67.5, 67.7, 67.4, 67.6, 67.8, 67.5, 67.7, 67.9, 67.6],
    [67.6, 67.8, 67.5, 67.7, 67.4, 67.6, 67.8, 67.5, 67.3, 67.6, 67.4, 67.7],
    [67.3, 67.5, 67.2, 67.4, 67.6, 67.3, 67.5, 67.2, 67.4, 67.6, 67.3, 67.1],
    [67.5, 67.3, 67.1, 67.2, 67.0, 67.3, 67.5, 67.2, 67.1, 67.4, 67.2, 67.3],
    [67.4, 67.2, 67.0, 67.3, 67.5, 67.2, 67.4, 67.1, 67.3, 67.5, 67.2, 67.3],
    [67.1, 67.4, 67.2, 67.5, 67.3, 67.6, 68.2, 67.9, 67.5, 68.0, 67.4, 67.2],
]
ENV_MIN_END = 67.3

TOP_SERIES = ["peak dB(Z)", "peak dB(C)", "peak dB(A)", "avg dB(Z)", "avg dB(C)", "avg dB(A)"]
TOP_COLORS = ["#1e90ff", "#ff00ff", "#2e8b57", "#4682b4", "#da70d6", "#9acd32"]
BOT_SERIES = ["dB(Z)", "dB(C)", "dB(A)"]
BOT_COLORS = ["#dc143c", "#ff8c00", "#ffd700"]

X_TICKS = [i * 0.5 for i in range(49)]
Y_TICKS = list(range(24, 109, 3))


# ---------------- frames ----------------
def flat(blocks, end=None):
    out = [v for b in blocks for v in b]
    if end is not None:
        out.append(end)
    return out


T10 = [i / 6 for i in range(145)]
T5_A = [i / 12 + 1 / 48 for i in range(288)]
T5_B = [i / 12 + 3 / 48 for i in range(288)]
T5 = [i / 12 for i in range(289)]


def long_frame(pairs):
    rows = []
    for name, times, vals in pairs:
        assert len(vals) == len(times), (name, len(vals), len(times))
        for t, v in zip(times, vals):
            rows.append({"t": t, "s": name, "v": v})
    return pd.DataFrame(rows)


top_lines = long_frame([
    ("avg dB(A)", T10, flat(AVG_A_H, AVG_A_END)),
    ("avg dB(C)", T10, flat(AVG_C_H, AVG_C_END)),
    ("avg dB(Z)", T10, flat(AVG_Z_H, AVG_Z_END)),
])
top_peaks = long_frame([
    ("peak dB(A)", T5_A, flat(PEAK_A_H)),
    ("peak dB(A)", T5_B, flat(PEAK_A_B_H)),
    ("peak dB(C)", T5_A, flat(PEAK_C_H)),
    ("peak dB(C)", T5_B, flat(PEAK_C_B_H)),
    ("peak dB(Z)", T5_A, flat(PEAK_Z_H)),
    ("peak dB(Z)", T5_B, flat(PEAK_Z_B_H)),
])
bot_lines = long_frame([
    ("dB(A)", T10, flat(DB_A_H, DB_A_END)),
    ("dB(C)", T10, flat(DB_C_H, DB_C_END)),
    ("dB(Z)", T10, flat(DB_Z_H, DB_Z_END)),
])
env_max = flat(ENV_MAX_H, ENV_MAX_END)
env_min = flat(ENV_MIN_H, ENV_MIN_END)
assert len(env_max) == len(T5) and len(env_min) == len(T5)
envelope = pd.DataFrame({"t": T5, "hi": env_max, "lo": env_min})

# ---------------- styling ----------------
FONT = "DejaVu Sans"
TICKFONT = "DejaVu Sans Condensed, Liberation Sans Narrow, DejaVu Sans"
BG = "#fff7dc"
W, H = 2284, 504
LINE_SYM = "M-4.4,-0.6H4.4V0.6H-4.4Z"
STROKE_SYM = "M-4.4,0H4.4"

x_scale = alt.Scale(domain=[0, 24], nice=False, zero=False)
y_scale = alt.Scale(domain=[24, 108], nice=False, zero=False)

MAJOR_X = "datum.value % 2 == 0"
MAJOR_Y = "(datum.value - 24) % 12 == 0"


def x_axis(suffix):
    return alt.Axis(
        values=X_TICKS, title="time",
        labelExpr=f"({MAJOR_X}) && datum.value < 24 ? (datum.value < 10 ? '0' : '') + datum.value + '{suffix}' : ''",
        labelFlush=False, labelOverlap=False, labelBound=False,
        grid=True,
        gridColor={"condition": {"test": MAJOR_X, "value": "#a8a8a8"}, "value": "#cdcdcd"},
        gridDash={"condition": {"test": MAJOR_X, "value": []}, "value": [2, 2]},
        gridWidth={"condition": {"test": MAJOR_X, "value": 1.3}, "value": 0.9},
        tickSize={"condition": {"test": MAJOR_X, "value": 5}, "value": 3},
        tickColor="black", domain=False,
        labelFont=TICKFONT, labelFontSize=9, labelColor="#222", labelPadding=3,
        titleFont=FONT, titleFontSize=11, titleFontWeight="normal", titleColor="#111", titlePadding=7,
    )


def y_axis(orient):
    kw = dict(
        values=Y_TICKS, title="dB SPL", orient=orient,
        labelExpr=f"{MAJOR_Y} ? datum.label : ''",
        labelFlush=False, labelOverlap=False, labelBound=False,
        tickSize={"condition": {"test": MAJOR_Y, "value": 5}, "value": 3},
        tickColor="black", domain=False,
        labelFont=TICKFONT, labelFontSize=9, labelColor="#222", labelPadding=6,
        titleFont=FONT, titleFontSize=11, titleFontWeight="normal", titleColor="#111", titlePadding=10,
        titleAngle=270,
    )
    if orient == "left":
        kw.update(
            grid=True,
            gridColor={"condition": {"test": MAJOR_Y, "value": "#a8a8a8"}, "value": "#bcbcbc"},
            gridDash={"condition": {"test": MAJOR_Y, "value": []}, "value": [3, 2]},
            gridWidth={"condition": {"test": MAJOR_Y, "value": 2}, "value": 0.9},
        )
    else:
        kw.update(grid=False)
    return alt.Axis(**kw)


def panel_title(text):
    return alt.TitleParams(text=text, anchor="start", frame="group", font=FONT, fontSize=11,
                           fontWeight="bold", color="black", offset=3)


# ---------------- top panel ----------------
top_legend = alt.Legend(
    title=None, orient="bottom-right", offset=5, columns=2, columnPadding=14, rowPadding=0,
    symbolSize=25, symbolOffset=9, labelOffset=14, labelFont=FONT, labelFontSize=10,
    labelColor="#222", fillColor=BG, strokeColor="#e2c8a0", padding=4, cornerRadius=3,
)
top_color = alt.Color("s:N", scale=alt.Scale(domain=TOP_SERIES, range=TOP_COLORS), legend=top_legend)
top_shape = alt.Shape("s:N", scale=alt.Scale(domain=TOP_SERIES,
                      range=["circle", "circle", "circle", LINE_SYM, LINE_SYM, LINE_SYM]), legend=top_legend)

xt = alt.X("t:Q", scale=x_scale, axis=x_axis(":00"))

peaks_layer = alt.Chart(top_peaks).mark_point(filled=True, size=12, opacity=0.95).encode(
    x=xt, y=alt.Y("v:Q", scale=y_scale, axis=y_axis("left")), color=top_color, shape=top_shape)
avg_layer = alt.Chart(top_lines).mark_line(strokeWidth=1.4).encode(
    x=xt, y=alt.Y("v:Q", scale=y_scale, axis=None), color=top_color)
right_top = alt.Chart(top_lines).mark_line(opacity=0).encode(
    x=xt, y=alt.Y("v:Q", scale=y_scale, axis=y_axis("right")))

top = alt.layer(peaks_layer, avg_layer, right_top).resolve_scale(y="independent").properties(
    width=W, height=H, title=panel_title("average and peak noise level (1 min sampling)"))

# ---------------- bottom panel ----------------
bot_legend = alt.Legend(
    title=None, orient="bottom-right", offset=5, symbolType=STROKE_SYM, symbolSize=25,
    symbolStrokeWidth=3, symbolOffset=9, labelOffset=13, labelFont=FONT, labelFontSize=10,
    labelColor="#222", fillColor=BG, strokeColor="#e2c8a0", padding=4, cornerRadius=3, rowPadding=0,
)
bot_color = alt.Color("s:N", scale=alt.Scale(domain=BOT_SERIES, range=BOT_COLORS), legend=bot_legend)
xb = alt.X("t:Q", scale=x_scale, axis=x_axis(":00:00"))

env_layer = alt.Chart(envelope).mark_area(color="#f2a488", opacity=0.4).encode(
    x=xb, y=alt.Y("hi:Q", scale=y_scale, axis=y_axis("left")), y2="lo:Q")
db_layer = alt.Chart(bot_lines).mark_line(strokeWidth=2).encode(
    x=xb, y=alt.Y("v:Q", scale=y_scale, axis=None), color=bot_color)
right_bot = alt.Chart(bot_lines).mark_line(opacity=0).encode(
    x=xb, y=alt.Y("v:Q", scale=y_scale, axis=y_axis("right")))

bottom = alt.layer(env_layer, db_layer, right_bot).resolve_scale(y="independent").properties(
    width=W, height=H, title=panel_title("average noise level (5 min with 15s min/max dB envelope)"))

chart = alt.vconcat(top, bottom, spacing=1).resolve_scale(
    color="independent", shape="independent"
).resolve_legend(color="independent", shape="independent").properties(
    title=alt.TitleParams(
        text=["data from [5001/mic0]", "starting point is [20250112_000015]"],
        anchor="start", font=FONT, fontSize=13, fontWeight="bold", color="black",
        lineHeight=16, offset=25, dx=11,
    ),
    padding={"left": 5, "top": 3, "right": 5, "bottom": 5},
).configure_view(fill=BG, stroke="black", strokeWidth=1.5).configure(background="white")

chart.save("out.html", embed_options={"renderer": "svg", "actions": False})
